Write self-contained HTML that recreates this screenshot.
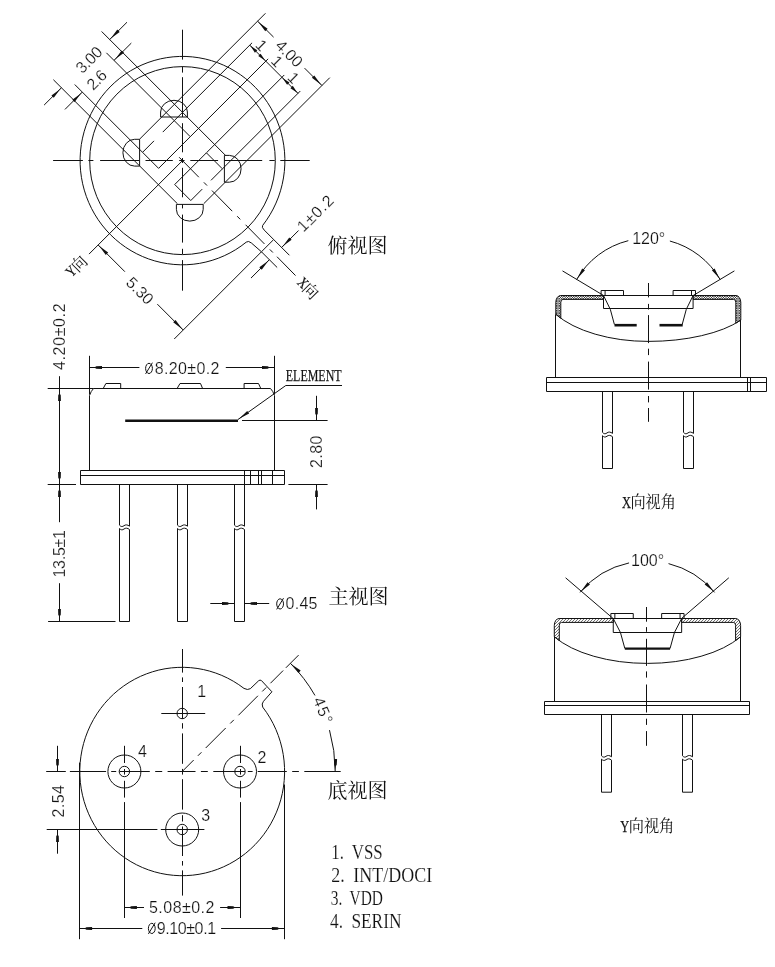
<!DOCTYPE html>
<html lang="zh"><head><meta charset="utf-8"><title>Sensor package outline drawing</title>
<style>
html,body{margin:0;padding:0;background:#fff}
body{width:775px;height:967px;overflow:hidden;font-family:"Liberation Sans",sans-serif}
svg{display:block;filter:grayscale(1)}
svg line,svg path,svg ellipse,svg circle,svg polyline{fill:none;stroke:#111;stroke-width:1}
svg .ar{fill:#111;stroke:none}
svg text{font-family:"Liberation Sans",sans-serif;fill:#111;stroke:#fff;stroke-width:.2px;paint-order:fill stroke}
svg text.s{font-family:"Liberation Serif",serif;stroke:#222;stroke-width:.25px}
svg text.sl{font-family:"Liberation Serif",serif;stroke:#fff;stroke-width:.15px;word-spacing:5px}
svg text.c{font-family:"Liberation Serif","Noto Serif CJK SC",serif;fill:#111;stroke:none}
svg tspan.h{fill:none;stroke:none}
svg .hx{stroke:none;fill:url(#hx)}
svg .hy{stroke:none;fill:url(#hy)}
svg .wf{fill:#fff;stroke:none}
</style></head><body>
<svg width="775" height="967" viewBox="0 0 775 967">
<defs>
<pattern id="hx" width="2.4" height="2.4" patternUnits="userSpaceOnUse" patternTransform="translate(0 1.1)"><rect width="2.4" height="2.4" fill="#fff"/><path d="M0 0L2.4 2.4M2.4 0L0 2.4" style="stroke:#111;stroke-width:.62"/></pattern>
<pattern id="hy" width="3" height="3" patternUnits="userSpaceOnUse"><rect width="3" height="3" fill="#fafafa"/><path d="M-0.75 0.75L0.75 -0.75M0 3L3 0M2.25 3.75L3.75 2.25" style="stroke:#333;stroke-width:.7"/></pattern>
</defs>
<rect width="775" height="967" style="fill:#fff;stroke:none"/>
<g id="top-view">
<ellipse cx="182.5" cy="160.6" rx="92.8" ry="94.0"/>
<path d="M273.68 239.55 L264.28 230.14 Q261.45 227.32 262.61 225.5 A102.4 104.2 0 1 0 246.28 242.12 Q248.37 240.4 251.41 243.01 L261.45 251.78 Z"/>
<line x1="53.1" y1="160.5" x2="82.9" y2="160.5"/>
<line x1="88.4" y1="160.5" x2="93.4" y2="160.5"/>
<line x1="100.1" y1="160.5" x2="139.4" y2="160.5"/>
<line x1="145.5" y1="160.5" x2="172.8" y2="160.5"/>
<line x1="179.2" y1="160.5" x2="184.6" y2="160.5"/>
<line x1="190.3" y1="160.5" x2="218.1" y2="160.5"/>
<line x1="224.3" y1="160.5" x2="262.2" y2="160.5"/>
<line x1="269.4" y1="160.5" x2="274.8" y2="160.5"/>
<line x1="280.3" y1="160.5" x2="309.7" y2="160.5"/>
<line x1="182.5" y1="29.7" x2="182.5" y2="59.6"/>
<line x1="182.5" y1="66.4" x2="182.5" y2="72.6"/>
<line x1="182.5" y1="77.2" x2="182.5" y2="117"/>
<line x1="182.5" y1="123.2" x2="182.5" y2="152.3"/>
<line x1="182.5" y1="158" x2="182.5" y2="163"/>
<line x1="182.5" y1="167.8" x2="182.5" y2="197.3"/>
<line x1="182.5" y1="204.3" x2="182.5" y2="208.4"/>
<line x1="182.5" y1="214.6" x2="182.5" y2="242.6"/>
<line x1="182.5" y1="248.8" x2="182.5" y2="254.2"/>
<line x1="182.5" y1="260.1" x2="182.5" y2="290.7"/>
<path d="M160.6 117.0 L187.4 117.0 L187.4 112 A13.4 11.7 0 0 0 160.6 112 Z"/>
<path d="M176.4 204.4 L203.2 204.4 L203.2 209.4 A13.4 11.7 0 0 1 176.4 209.4 Z"/>
<path d="M139.6 139.3 L139.6 166.1 L134.6 166.1 A11.7 13.4 0 0 1 134.6 139.3 Z"/>
<path d="M224.4 155.4 L224.4 182.2 L229.4 182.2 A11.7 13.4 0 0 0 229.4 155.4 Z"/>
<line x1="101.61" y1="31.48" x2="225.63" y2="155.51"/>
<line x1="53.38" y1="79.71" x2="177.41" y2="203.73"/>
<line x1="265.44" y1="13.31" x2="139.37" y2="139.39"/>
<line x1="329.79" y1="77.66" x2="203.71" y2="203.73"/>
<line x1="174.23" y1="120.65" x2="190.28" y2="136.7"/>
<line x1="142.55" y1="152.33" x2="158.6" y2="168.38"/>
<line x1="190.28" y1="136.7" x2="158.6" y2="168.38"/>
<line x1="174.23" y1="120.65" x2="162.77" y2="132.1"/>
<line x1="154" y1="140.87" x2="142.55" y2="152.33"/>
<line x1="206.4" y1="152.82" x2="222.45" y2="168.87"/>
<line x1="174.72" y1="184.5" x2="190.77" y2="200.55"/>
<line x1="206.4" y1="152.82" x2="174.72" y2="184.5"/>
<line x1="222.45" y1="168.87" x2="211" y2="180.33"/>
<line x1="202.23" y1="189.1" x2="190.77" y2="200.55"/>
<line x1="106.42" y1="52.84" x2="174.23" y2="120.65"/>
<line x1="74.74" y1="84.52" x2="142.55" y2="152.33"/>
<line x1="252.08" y1="42.8" x2="174.23" y2="120.65"/>
<line x1="268.13" y1="58.85" x2="190.28" y2="136.7"/>
<line x1="284.25" y1="74.97" x2="206.4" y2="152.82"/>
<line x1="300.3" y1="91.02" x2="222.45" y2="168.87"/>
<line x1="109.67" y1="39.54" x2="126.99" y2="22.22"/>
<line x1="61.44" y1="87.77" x2="44.12" y2="105.09"/>
<path class="ar" d="M109.67 39.54 L112.53 36.04 L117.32 29.52 L119.69 31.89 L113.17 36.68 Z"/>
<path class="ar" d="M61.44 87.77 L58.58 91.27 L53.79 97.79 L51.42 95.42 L57.94 90.63 Z"/>
<line x1="113.98" y1="60.4" x2="131.31" y2="43.08"/>
<line x1="82.3" y1="92.08" x2="64.98" y2="109.41"/>
<path class="ar" d="M113.98 60.4 L116.85 56.9 L121.63 50.38 L124.01 52.75 L117.48 57.54 Z"/>
<path class="ar" d="M82.3 92.08 L79.44 95.58 L74.65 102.11 L72.28 99.73 L78.8 94.95 Z"/>
<text class="d" font-size="16" text-anchor="middle" y="5.6" textLength="30" lengthAdjust="spacing" transform="translate(88.9 59.7) rotate(-45)">3.00</text>
<text class="d" font-size="16" text-anchor="middle" y="5.6" textLength="21" lengthAdjust="spacing" transform="translate(96.7 79.6) rotate(-45)">2.6</text>
<line x1="249.75" y1="45.13" x2="297.97" y2="93.35"/>
<path class="ar" d="M249.75 45.13 L252.36 47.1 L257.3 50.31 L254.92 52.68 L251.72 47.74 Z"/>
<path class="ar" d="M265.8 61.18 L263.19 59.21 L258.25 56 L260.62 53.63 L263.82 58.57 Z"/>
<path class="ar" d="M281.92 77.3 L284.53 79.28 L289.47 82.48 L287.1 84.85 L283.89 79.91 Z"/>
<path class="ar" d="M297.97 93.35 L295.36 91.38 L290.42 88.18 L292.79 85.8 L296 90.74 Z"/>
<text class="d" font-size="16" text-anchor="middle" y="5.6" transform="translate(261.5 45.1) rotate(45)">1</text>
<text class="d" font-size="16" text-anchor="middle" y="5.6" transform="translate(277 61.2) rotate(45)">1</text>
<text class="d" font-size="16" text-anchor="middle" y="5.6" transform="translate(293.5 77.7) rotate(45)">1</text>
<line x1="257.59" y1="21.16" x2="273.58" y2="37.14"/>
<line x1="304.55" y1="68.11" x2="321.94" y2="85.51"/>
<path class="ar" d="M257.59 21.16 L261.09 24.02 L267.62 28.81 L265.25 31.19 L260.46 24.66 Z"/>
<path class="ar" d="M321.94 85.51 L318.44 82.64 L311.91 77.85 L314.29 75.48 L319.08 82.01 Z"/>
<text class="d" font-size="16" text-anchor="middle" y="5.6" textLength="31" lengthAdjust="spacing" transform="translate(289.4 53.4) rotate(45)">4.00</text>
<line x1="182.5" y1="160.6" x2="89.02" y2="254.08"/>
<line x1="179.2" y1="157.25" x2="198.84" y2="177.22"/>
<line x1="203.88" y1="182.35" x2="207.04" y2="185.56"/>
<line x1="211.95" y1="190.55" x2="232.21" y2="211.16"/>
<line x1="237.19" y1="216.22" x2="240.27" y2="219.36"/>
<line x1="245.6" y1="224.78" x2="264.46" y2="243.96"/>
<line x1="269.79" y1="249.38" x2="272.87" y2="252.52"/>
<line x1="277.01" y1="256.73" x2="295.52" y2="275.55"/>
<line x1="98.14" y1="244.96" x2="124.87" y2="271.69"/>
<line x1="157.33" y1="304.14" x2="183.21" y2="330.02"/>
<path class="ar" d="M98.14 244.96 L101.64 247.82 L108.17 252.61 L105.79 254.98 L101.01 248.46 Z"/>
<path class="ar" d="M183.21 330.02 L179.71 327.16 L173.18 322.37 L175.56 320 L180.34 326.52 Z"/>
<line x1="261.45" y1="251.78" x2="174.23" y2="339"/>
<text class="d" font-size="16" text-anchor="middle" y="5.6" textLength="31" lengthAdjust="spacing" transform="translate(140 290.5) rotate(45)">5.30</text>
<line x1="273.68" y1="239.55" x2="289.38" y2="255.25"/>
<line x1="261.45" y1="251.78" x2="277.15" y2="267.48"/>
<line x1="281.6" y1="247.47" x2="298.57" y2="230.5"/>
<line x1="269.37" y1="259.7" x2="250.98" y2="278.09"/>
<path class="ar" d="M281.6 247.47 L284.46 243.97 L289.25 237.44 L291.63 239.82 L285.1 244.6 Z"/>
<path class="ar" d="M269.37 259.7 L266.5 263.2 L261.72 269.73 L259.34 267.35 L265.87 262.56 Z"/>
<text class="d" font-size="16" text-anchor="middle" y="5.6" textLength="44" lengthAdjust="spacing" transform="translate(315.2 213.3) rotate(-45)">1±0.2</text>
<text class="c" font-size="20" x="327.5" y="252.8">俯视图</text>
<g transform="translate(76.7 266.7) rotate(-45)"><text class="s" font-size="15" x="-11.5" y="4.2" textLength="8.6" lengthAdjust="spacingAndGlyphs">Y</text></g>
<text class="c" font-size="16" x="0" y="0" transform="translate(78.04 272.99) rotate(-45) scale(0.931 1.024)">向</text>
<g transform="translate(307.5 288.4) rotate(45)"><text class="s" font-size="15" x="-11.5" y="4.2" textLength="8.6" lengthAdjust="spacingAndGlyphs">X</text></g>
<text class="c" font-size="16" x="0" y="0" transform="translate(301.21 289.74) rotate(45) scale(0.931 1.024)">向</text>
</g>
<g id="main-view">
<path d="M89.5 470.5 L89.5 395.5 Q91 391 93.5 388.5 L270.5 388.5 Q273 391 274.5 395.5 L274.5 470.5"/>
<line x1="89.5" y1="355.8" x2="89.5" y2="394.5"/>
<line x1="274.5" y1="355.8" x2="274.5" y2="394.5"/>
<path d="M80.5 470.5 H284.5 V484.5 H80.5 Z M80.5 475.5 H284.5"/>
<line x1="244.5" y1="470.5" x2="244.5" y2="484.5"/>
<line x1="250.5" y1="470.5" x2="250.5" y2="484.5"/>
<line x1="258.5" y1="470.5" x2="258.5" y2="484.5"/>
<line x1="261.5" y1="470.5" x2="261.5" y2="484.5"/>
<line x1="272.5" y1="470.5" x2="272.5" y2="484.5"/>
<path d="M103.2 388.5 L105.9 383.5 L120.7 383.5 L120.7 388.5"/>
<path d="M177.1 388.5 L180 383.5 L200.5 383.5 L202.6 388.5"/>
<path d="M244.1 388.5 L244.1 383.5 L258.5 383.5 L260.8 388.5"/>
<line x1="125.2" y1="420.7" x2="238" y2="420.7" style="stroke-width:2.6"/>
<line x1="242" y1="420.5" x2="327.6" y2="420.5"/>
<line x1="47.7" y1="388.5" x2="93.5" y2="388.5"/>
<line x1="47.7" y1="484.5" x2="76" y2="484.5"/>
<line x1="48.1" y1="621.5" x2="115.5" y2="621.5"/>
<line x1="288.4" y1="484.5" x2="327.6" y2="484.5"/>
<line x1="59.5" y1="376.2" x2="59.5" y2="522.2"/>
<line x1="59.5" y1="583.2" x2="59.5" y2="621.5"/>
<path class="ar" d="M59.5 388.5 L60 394.1 L60.76 395.3 L60.9 401 L58.1 401 L58.24 395.3 L59 394.1 Z"/>
<path class="ar" d="M59.5 484.5 L59 478.9 L58.24 477.7 L58.1 472 L60.9 472 L60.76 477.7 L60 478.9 Z"/>
<path class="ar" d="M59.5 484.5 L60 490.1 L60.76 491.3 L60.9 497 L58.1 497 L58.24 491.3 L59 490.1 Z"/>
<path class="ar" d="M59.5 621.5 L59 615.9 L58.24 614.7 L58.1 609 L60.9 609 L60.76 614.7 L60 615.9 Z"/>
<text class="d" font-size="16" text-anchor="middle" y="5.6" textLength="66.6" lengthAdjust="spacing" transform="translate(59.5 336.7) rotate(-90)">4.20±0.2</text>
<text class="d" font-size="16" text-anchor="middle" y="5.6" textLength="47.5" lengthAdjust="spacing" transform="translate(59.5 553.8) rotate(-90)">13.5±1</text>
<path d="M119.5 484.5 V525.2 c1.5 1.7 3 1.7 4.5 .5 s3.5 -1.1 5.5 .5 V484.5"/>
<path d="M119.5 621.5 V528.5 c1.5 1.7 3 1.7 4.5 .5 s3.5 -1.1 5.5 .5 V621.5 Z"/>
<path d="M177.5 484.5 V525.2 c1.5 1.7 3 1.7 4.5 .5 s3.5 -1.1 5.5 .5 V484.5"/>
<path d="M177.5 621.5 V528.5 c1.5 1.7 3 1.7 4.5 .5 s3.5 -1.1 5.5 .5 V621.5 Z"/>
<path d="M234.5 484.5 V525.2 c1.5 1.7 3 1.7 4.5 .5 s3.5 -1.1 5.5 .5 V484.5"/>
<path d="M234.5 621.5 V528.5 c1.5 1.7 3 1.7 4.5 .5 s3.5 -1.1 5.5 .5 V621.5 Z"/>
<line x1="89.5" y1="367.5" x2="139.4" y2="367.5"/>
<line x1="225.8" y1="367.5" x2="274.5" y2="367.5"/>
<path class="ar" d="M89.5 367.5 L95.1 367 L96.3 366.24 L102 366.1 L102 368.9 L96.3 368.76 L95.1 368 Z"/>
<path class="ar" d="M274.5 367.5 L268.9 368 L267.7 368.76 L262 368.9 L262 366.1 L267.7 366.24 L268.9 367 Z"/>
<ellipse cx="149" cy="368.4" rx="3.4" ry="5.1"/>
<line x1="145.6" y1="373.9" x2="152.4" y2="362.7"/>
<text class="d" font-size="16" text-anchor="middle" y="5.6" textLength="75" lengthAdjust="spacing" transform="translate(182 368.3) rotate(0)"><tspan class="h">ø</tspan>8.20±0.2</text>
<line x1="285.8" y1="385.5" x2="342" y2="385.5"/>
<line x1="285.8" y1="385.5" x2="238" y2="419.5"/>
<path class="ar" d="M238 419.5 L241.41 416.52 L247.21 410.89 L249.16 413.62 L241.93 417.26 Z"/>
<text class="s" font-size="17.5" text-anchor="middle" y="5.8" textLength="55.8" lengthAdjust="spacingAndGlyphs" transform="translate(313.7 375.2) rotate(0)">ELEMENT</text>
<line x1="316.5" y1="395.8" x2="316.5" y2="420.6"/>
<line x1="316.5" y1="484.5" x2="316.5" y2="509.4"/>
<path class="ar" d="M316.5 420.5 L316 414.9 L315.24 413.7 L315.1 408 L317.9 408 L317.76 413.7 L317 414.9 Z"/>
<path class="ar" d="M316.5 484.5 L317 490.1 L317.76 491.3 L317.9 497 L315.1 497 L315.24 491.3 L316 490.1 Z"/>
<text class="d" font-size="16" text-anchor="middle" y="5.6" textLength="32.5" lengthAdjust="spacing" transform="translate(316.3 451.8) rotate(-90)">2.80</text>
<line x1="210.3" y1="603.5" x2="234.5" y2="603.5"/>
<line x1="244.5" y1="603.5" x2="269.2" y2="603.5"/>
<path class="ar" d="M234.5 603.5 L228.9 604 L227.7 604.76 L222 604.9 L222 602.1 L227.7 602.24 L228.9 603 Z"/>
<path class="ar" d="M244.5 603.5 L250.1 603 L251.3 602.24 L257 602.1 L257 604.9 L251.3 604.76 L250.1 604 Z"/>
<ellipse cx="280.1" cy="603.9" rx="3.4" ry="5.1"/>
<line x1="276.7" y1="609.4" x2="283.5" y2="598.2"/>
<text class="d" font-size="16" text-anchor="middle" y="5.6" textLength="41.8" lengthAdjust="spacing" transform="translate(296.5 603.8) rotate(0)"><tspan class="h">ø</tspan>0.45</text>
<text class="c" font-size="20" x="328.4" y="604.4">主视图</text>
</g>
<g id="bottom-view">
<path d="M271.9 691.8 L263.5 701.3 Q261.3 703.8 262.7 707.1 A102.4 104.2 0 1 1 244 688.42 Q247.6 690.4 250.3 688.7 L258.7 680.7 Q260 679.6 261.4 680.5 Z"/>
<circle cx="182.2" cy="713.5" r="5.2"/>
<circle cx="240.0" cy="771.5" r="5.2"/>
<circle cx="240.0" cy="771.5" r="16.5"/>
<circle cx="182.2" cy="829.5" r="5.2"/>
<circle cx="182.2" cy="829.5" r="16.5"/>
<circle cx="124.4" cy="771.5" r="5.2"/>
<circle cx="124.4" cy="771.5" r="16.5"/>
<line x1="182.5" y1="649" x2="182.5" y2="672.6"/>
<line x1="182.5" y1="677.4" x2="182.5" y2="682"/>
<line x1="182.5" y1="687" x2="182.5" y2="718.9"/>
<line x1="182.5" y1="723.2" x2="182.5" y2="728.6"/>
<line x1="182.5" y1="733.4" x2="182.5" y2="763.8"/>
<line x1="182.5" y1="768.9" x2="182.5" y2="774.6"/>
<line x1="182.5" y1="779.2" x2="182.5" y2="809.6"/>
<line x1="182.5" y1="815.2" x2="182.5" y2="821.5"/>
<line x1="182.5" y1="826.5" x2="182.5" y2="856"/>
<line x1="182.5" y1="861" x2="182.5" y2="865.6"/>
<line x1="182.5" y1="870.4" x2="182.5" y2="895.6"/>
<line x1="46.2" y1="771.5" x2="65.8" y2="771.5"/>
<line x1="69.9" y1="771.5" x2="106.1" y2="771.5"/>
<line x1="111.2" y1="771.5" x2="116.2" y2="771.5"/>
<line x1="119.5" y1="771.5" x2="149.8" y2="771.5"/>
<line x1="155.2" y1="771.5" x2="162.2" y2="771.5"/>
<line x1="167.6" y1="771.5" x2="195.5" y2="771.5"/>
<line x1="200.9" y1="771.5" x2="207.8" y2="771.5"/>
<line x1="213.3" y1="771.5" x2="245" y2="771.5"/>
<line x1="247.8" y1="771.5" x2="252.6" y2="771.5"/>
<line x1="257.7" y1="771.5" x2="286.8" y2="771.5"/>
<line x1="292.2" y1="771.5" x2="298.9" y2="771.5"/>
<line x1="304.3" y1="771.5" x2="340.7" y2="771.5"/>
<line x1="161.3" y1="713.5" x2="205.2" y2="713.5"/>
<line x1="46.7" y1="829.5" x2="157.4" y2="829.5"/>
<line x1="160.8" y1="829.5" x2="204.4" y2="829.5"/>
<line x1="124.5" y1="745.8" x2="124.5" y2="763"/>
<line x1="124.5" y1="769" x2="124.5" y2="774.6"/>
<line x1="124.5" y1="780.8" x2="124.5" y2="797.6"/>
<line x1="124.5" y1="802.1" x2="124.5" y2="918"/>
<line x1="240.5" y1="745.8" x2="240.5" y2="763"/>
<line x1="240.5" y1="769" x2="240.5" y2="774.6"/>
<line x1="240.5" y1="780.8" x2="240.5" y2="797.6"/>
<line x1="240.5" y1="802.1" x2="240.5" y2="918"/>
<line x1="79.5" y1="762.6" x2="79.5" y2="939.2"/>
<line x1="284.5" y1="784.5" x2="284.5" y2="939.2"/>
<line x1="182.2" y1="771.5" x2="193.66" y2="760.04"/>
<line x1="197.9" y1="755.8" x2="201.43" y2="752.27"/>
<line x1="205.68" y1="748.02" x2="225.69" y2="728.01"/>
<line x1="230.21" y1="723.49" x2="233.82" y2="719.88"/>
<line x1="238.41" y1="715.29" x2="257.93" y2="695.77"/>
<line x1="262.24" y1="691.46" x2="266.2" y2="687.5"/>
<line x1="270.45" y1="683.25" x2="283.17" y2="670.53"/>
<line x1="285.86" y1="667.84" x2="298.59" y2="655.11"/>
<path d="M335.2 771.5 A153 153 0 0 0 329.49 730.1"/>
<path d="M314.97 695.46 A153 153 0 0 0 290.39 663.31"/>
<path class="ar" d="M335.2 771.5 L334.92 765.88 L334.21 764.66 L334.3 758.95 L337.1 759.07 L336.73 764.76 L335.92 765.92 Z"/>
<path class="ar" d="M290.39 663.31 L294 666.03 L300.72 670.54 L298.45 673.01 L293.39 666.69 Z"/>
<text class="d" font-size="16" text-anchor="middle" y="5.6" textLength="27" lengthAdjust="spacing" transform="translate(323.1 710.2) rotate(67.5)">45°</text>
<line x1="57.5" y1="745.8" x2="57.5" y2="771.5"/>
<line x1="57.5" y1="829.5" x2="57.5" y2="853.7"/>
<path class="ar" d="M57.5 771.5 L57 765.9 L56.24 764.7 L56.1 759 L58.9 759 L58.76 764.7 L58 765.9 Z"/>
<path class="ar" d="M57.5 829.5 L58 835.1 L58.76 836.3 L58.9 842 L56.1 842 L56.24 836.3 L57 835.1 Z"/>
<text class="d" font-size="16" text-anchor="middle" y="5.6" textLength="32.5" lengthAdjust="spacing" transform="translate(58.3 801.3) rotate(-90)">2.54</text>
<line x1="124.4" y1="907.5" x2="144" y2="907.5"/>
<line x1="220.1" y1="907.5" x2="240" y2="907.5"/>
<path class="ar" d="M124.4 907.5 L130 907 L131.2 906.24 L136.9 906.1 L136.9 908.9 L131.2 908.76 L130 908 Z"/>
<path class="ar" d="M240 907.5 L234.4 908 L233.2 908.76 L227.5 908.9 L227.5 906.1 L233.2 906.24 L234.4 907 Z"/>
<text class="d" font-size="16" text-anchor="middle" y="5.6" textLength="65.4" lengthAdjust="spacing" transform="translate(181.7 907.6) rotate(0)">5.08±0.2</text>
<line x1="79.6" y1="928.5" x2="142.3" y2="928.5"/>
<line x1="221.1" y1="928.5" x2="284.4" y2="928.5"/>
<path class="ar" d="M79.6 928.5 L85.2 928 L86.4 927.24 L92.1 927.1 L92.1 929.9 L86.4 929.76 L85.2 929 Z"/>
<path class="ar" d="M284.4 928.5 L278.8 929 L277.6 929.76 L271.9 929.9 L271.9 927.1 L277.6 927.24 L278.8 928 Z"/>
<ellipse cx="151.8" cy="928.4" rx="3.4" ry="5.1"/>
<line x1="148.4" y1="933.9" x2="155.2" y2="922.7"/>
<text class="d" font-size="16" text-anchor="middle" y="5.6" textLength="68.8" lengthAdjust="spacing" transform="translate(181.7 928.3) rotate(0)"><tspan class="h">ø</tspan>9.10±0.1</text>
<text class="d" font-size="16" text-anchor="middle" y="5.6" transform="translate(201.8 691.6) rotate(0)">1</text>
<text class="d" font-size="16" text-anchor="middle" y="5.6" transform="translate(261.9 757.4) rotate(0)">2</text>
<text class="d" font-size="16" text-anchor="middle" y="5.6" transform="translate(205.8 815.2) rotate(0)">3</text>
<text class="d" font-size="16" text-anchor="middle" y="5.6" transform="translate(142.5 751.7) rotate(0)">4</text>
<text class="c" font-size="20" x="327.6" y="798">底视图</text>
<text class="sl" font-size="21.5" x="331.2" y="858.7" textLength="51.5" lengthAdjust="spacingAndGlyphs">1. VSS</text>
<text class="sl" font-size="21.5" x="331.2" y="881.75" textLength="101" lengthAdjust="spacingAndGlyphs">2. INT/DOCI</text>
<text class="sl" font-size="21.5" x="330.8" y="904.8" textLength="52.2" lengthAdjust="spacingAndGlyphs">3. VDD</text>
<text class="sl" font-size="21.5" x="330" y="927.85" textLength="71.5" lengthAdjust="spacingAndGlyphs">4. SERIN</text>
</g>
<g id="x-view">
<path d="M555.8 314.31 L555.8 302.5 A4.8 7.0 0 0 1 560.6 295.5 L603.5 295.5 L603.5 299.4 L563 299.4 A2.2 3.0 0 0 0 560.8 302.4 L560.8 318.23 Z" class="hx"/>
<path d="M555.8 314.31 L555.8 302.5 A4.8 7.0 0 0 1 560.6 295.5 L603.5 295.5 L603.5 299.4 L563 299.4 A2.2 3.0 0 0 0 560.8 302.4 L560.8 318.23 Z"/>
<path d="M740.8 320.11 L740.8 302.5 A4.8 7.0 0 0 0 736 295.5 L693.1 295.5 L693.1 299.4 L733.6 299.4 A2.2 3.0 0 0 1 735.8 302.4 L735.8 323.19 Z" class="hx"/>
<path d="M740.8 320.11 L740.8 302.5 A4.8 7.0 0 0 0 736 295.5 L693.1 295.5 L693.1 299.4 L733.6 299.4 A2.2 3.0 0 0 1 735.8 302.4 L735.8 323.19 Z"/>
<line x1="555.5" y1="314.31" x2="555.5" y2="377.5"/>
<line x1="740.5" y1="320.11" x2="740.5" y2="377.5"/>
<path d="M555.8 314.31 A108 56 0 0 0 648.3 341.4 A108 44 0 0 0 740.8 320.11"/>
<path d="M603.5 295.5 H693.1 V308.5 H603.5 Z"/>
<path d="M601.1 295.5 V290.5 H623.5 V295.5 M605.1 290.5 V295.5"/>
<path d="M695.5 295.5 V290.5 H673.1 V295.5 M691.5 290.5 V295.5"/>
<path d="M603.5 295.5 L610.3 309.3 L614.4 324.5"/>
<path d="M693.1 295.5 L686.3 309.3 L682.2 324.5"/>
<line x1="614.5" y1="325.2" x2="636.7" y2="325.2" style="stroke-width:2.6"/>
<line x1="659.5" y1="325.2" x2="682.7" y2="325.2" style="stroke-width:2.6"/>
<path d="M546.5 377.5 H766.5 V391.5 H546.5 Z M546.5 382.5 H766.5"/>
<line x1="747.5" y1="377.5" x2="747.5" y2="391.5"/>
<line x1="750.5" y1="377.5" x2="750.5" y2="391.5"/>
<path d="M602.5 391.5 V432.4 c1.5 1.7 3 1.7 4.5 .5 s3.5 -1.1 5.5 .5 V391.5"/>
<path d="M602.5 468.5 V435.7 c1.5 1.7 3 1.7 4.5 .5 s3.5 -1.1 5.5 .5 V468.5 Z"/>
<path d="M683.5 391.5 V432.4 c1.5 1.7 3 1.7 4.5 .5 s3.5 -1.1 5.5 .5 V391.5"/>
<path d="M683.5 468.5 V435.7 c1.5 1.7 3 1.7 4.5 .5 s3.5 -1.1 5.5 .5 V468.5 Z"/>
<line x1="648.5" y1="283" x2="648.5" y2="297.4"/>
<line x1="648.5" y1="303.9" x2="648.5" y2="309.5"/>
<line x1="648.5" y1="315.1" x2="648.5" y2="343.1"/>
<line x1="648.5" y1="348.7" x2="648.5" y2="355.1"/>
<line x1="648.5" y1="361.6" x2="648.5" y2="389.6"/>
<line x1="648.5" y1="396" x2="648.5" y2="402.4"/>
<line x1="648.5" y1="408" x2="648.5" y2="421.8"/>
<line x1="562.5" y1="270.9" x2="603.6" y2="295.5"/>
<line x1="734.4" y1="270.9" x2="693.2" y2="295.5"/>
<path d="M576.52 279.7 A83 83 0 0 1 628.32 240.67"/>
<path d="M669.88 241.03 A83 83 0 0 1 720.28 279.7"/>
<path class="ar" d="M576.52 279.7 L578.68 275.73 L582.16 268.42 L584.94 270.31 L579.42 276.23 Z"/>
<path class="ar" d="M720.28 279.7 L717.38 276.23 L711.86 270.31 L714.64 268.42 L718.12 275.73 Z"/>
<text class="d" font-size="16" text-anchor="middle" y="5.6" textLength="33" lengthAdjust="spacing" transform="translate(648.7 238) rotate(0)">120°</text>
</g>
<text class="s" font-size="17" x="622" y="507.8" textLength="9" lengthAdjust="spacingAndGlyphs">X</text>
<text class="c" font-size="17" x="0" y="0" transform="translate(630.4 508) scale(0.894 1)">向视角</text>
<g id="y-view">
<path d="M554.3 636.73 L554.3 625.5 A4.8 7.0 0 0 1 559.1 618.5 L613.25 618.5 L613.25 622.4 L561.5 622.4 A2.2 3.0 0 0 0 559.3 625.4 L559.3 640.6 Z" class="hy"/>
<path d="M554.3 636.73 L554.3 625.5 A4.8 7.0 0 0 1 559.1 618.5 L613.25 618.5 L613.25 622.4 L561.5 622.4 A2.2 3.0 0 0 0 559.3 625.4 L559.3 640.6 Z"/>
<path d="M740.6 636.73 L740.6 625.5 A4.8 7.0 0 0 0 735.8 618.5 L681.65 618.5 L681.65 622.4 L733.4 622.4 A2.2 3.0 0 0 1 735.6 625.4 L735.6 640.6 Z" class="hy"/>
<path d="M740.6 636.73 L740.6 625.5 A4.8 7.0 0 0 0 735.8 618.5 L681.65 618.5 L681.65 622.4 L733.4 622.4 A2.2 3.0 0 0 1 735.6 625.4 L735.6 640.6 Z"/>
<line x1="554.5" y1="636.73" x2="554.5" y2="701.5"/>
<line x1="740.5" y1="636.73" x2="740.5" y2="701.5"/>
<path d="M554.3 636.73 A108 54 0 0 0 647.45 663.4 A108 54 0 0 0 740.6 636.73"/>
<path d="M613.25 618.5 H681.65 V632.5 H613.25 Z"/>
<path d="M610.85 618.5 V613.5 H633.25 V618.5 M614.85 613.5 V618.5"/>
<path d="M684.05 618.5 V613.5 H661.65 V618.5 M680.05 613.5 V618.5"/>
<path d="M613.25 618.5 L620.45 632.5 L624.85 648.5"/>
<path d="M681.65 618.5 L674.45 632.5 L670.05 648.5"/>
<line x1="624.85" y1="648.6" x2="670.05" y2="648.6" style="stroke-width:2.2"/>
<path d="M544.5 701.5 H749.5 V714.5 H544.5 Z M544.5 705.5 H749.5"/>
<path d="M601.5 714.5 V755.8 c1.5 1.7 3 1.7 4.5 .5 s3.5 -1.1 5.5 .5 V714.5"/>
<path d="M601.5 792.2 V759.1 c1.5 1.7 3 1.7 4.5 .5 s3.5 -1.1 5.5 .5 V792.2 Z"/>
<path d="M682.5 714.5 V755.8 c1.5 1.7 3 1.7 4.5 .5 s3.5 -1.1 5.5 .5 V714.5"/>
<path d="M682.5 792.2 V759.1 c1.5 1.7 3 1.7 4.5 .5 s3.5 -1.1 5.5 .5 V792.2 Z"/>
<line x1="646.5" y1="607" x2="646.5" y2="621.7"/>
<line x1="646.5" y1="627.1" x2="646.5" y2="631.8"/>
<line x1="646.5" y1="638.8" x2="646.5" y2="665.9"/>
<line x1="646.5" y1="671.4" x2="646.5" y2="677.6"/>
<line x1="646.5" y1="684.5" x2="646.5" y2="712.5"/>
<line x1="646.5" y1="718.7" x2="646.5" y2="724.9"/>
<line x1="646.5" y1="731.1" x2="646.5" y2="745.8"/>
<line x1="565.6" y1="577.8" x2="613.1" y2="618.5"/>
<line x1="728.8" y1="577.8" x2="681.5" y2="618.5"/>
<path d="M580.04 592.36 A87.8 87.8 0 0 1 629.05 562.92"/>
<path d="M668.54 563.61 A87.8 87.8 0 0 1 714.56 592.36"/>
<path class="ar" d="M580.04 592.36 L582.86 588.82 L587.55 582.23 L589.96 584.57 L583.5 589.45 Z"/>
<path class="ar" d="M714.56 592.36 L711.1 589.45 L704.64 584.57 L707.05 582.23 L711.74 588.82 Z"/>
<text class="d" font-size="16" text-anchor="middle" y="5.6" textLength="33" lengthAdjust="spacing" transform="translate(647.6 560.6) rotate(0)">100°</text>
</g>
<text class="s" font-size="17" x="620.3" y="831.6" textLength="9" lengthAdjust="spacingAndGlyphs">Y</text>
<text class="c" font-size="17" x="0" y="0" transform="translate(628.7 831.8) scale(0.894 1)">向视角</text>
</svg>
</body></html>
